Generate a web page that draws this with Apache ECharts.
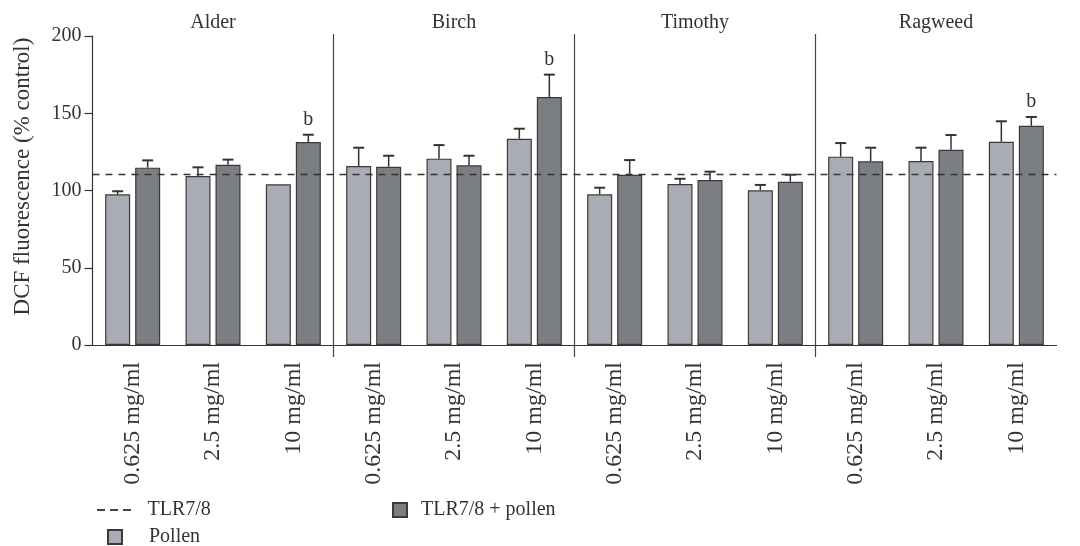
<!DOCTYPE html>
<html>
<head>
<meta charset="utf-8">
<script src="https://cdn.jsdelivr.net/npm/echarts@6/dist/echarts.min.js"></script>
<style>html,body{margin:0;padding:0;background:#fff}#c{width:1080px;height:546px}</style>
</head>
<body>
<div id="c"></div>
<script>
// ---- data ----
const categories = ['0.625 mg/ml','2.5 mg/ml','10 mg/ml','0.625 mg/ml','2.5 mg/ml','10 mg/ml','0.625 mg/ml','2.5 mg/ml','10 mg/ml','0.625 mg/ml','2.5 mg/ml','10 mg/ml'];
const groups = ['Alder','Birch','Timothy','Ragweed'];
const pollenMean = [97.5,109.4,104, 115.9,120.6,133.5, 97.5,104.2,100.1, 121.9,119.1,131.6];
const pollenErrTop = [99.5,115,null, 127.7,129.4,140, 101.8,107.6,103.6, 130.7,127.7,144.8];
const comboMean = [114.8,116.7,131.4, 115.4,116.3,160.5, 110.2,106.8,105.7, 118.9,126.4,141.9];
const comboErrTop = [119.5,120,136.1, 122.5,122.5,175, 119.7,112.2,110.2, 127.7,135.9,147.6];
const comboSig = ['','','b', '','','b', '','','', '','','b'];
const tlrLevel = [110.5];
const yTicks = [0,50,100,150,200];

// ---- style ----
const FONT = 'Liberation Serif';
const BAR_W = 25, BAR_GAP = 5;
const INK = '#333';
const DASH_ICON = 'path://M0,0L8,0L8,2L0,2Z M13,0L21,0L21,2L13,2Z M26,0L34,0L34,2L26,2Z';

function errItem(offset, tops, sig) {
  return function (params, api) {
    const i = api.value(0);
    const top = tops[i];
    if (top == null) return null;
    const base = api.coord([i, api.value(1)]);
    const t = api.coord([i, top]);
    const x = base[0] + offset;
    const children = [
      {type:'line', shape:{x1:x,y1:base[1],x2:x,y2:t[1]}, style:{stroke:INK,lineWidth:1.5}},
      {type:'line', shape:{x1:x-5.5,y1:t[1],x2:x+5.5,y2:t[1]}, style:{stroke:INK,lineWidth:2}}
    ];
    if (sig && sig[i]) {
      children.push({type:'text', x:x, y:t[1]-5, style:{text:sig[i], font:'20px "'+FONT+'"', fill:INK, align:'center', verticalAlign:'bottom'}});
    }
    return {type:'group', children};
  };
}

const legendText = {fontFamily:FONT, fontSize:20, color:INK};
const chart = echarts.init(document.getElementById('c'));
chart.setOption({
  animation:false,
  textStyle:{fontFamily:FONT},
  grid:{left:92.5, right:23.5, top:36, bottom:201},
  legend:[
    {left:92, top:495, itemWidth:35, itemHeight:2, icon:DASH_ICON,
     textStyle:Object.assign({padding:[0,0,0,11]}, legendText), data:['TLR7/8']},
    {left:102, top:522, itemWidth:14, itemHeight:14, icon:'rect',
     textStyle:Object.assign({padding:[0,0,0,22]}, legendText), data:['Pollen']},
    {left:387, top:495, itemWidth:14, itemHeight:14, icon:'rect',
     textStyle:Object.assign({padding:[0,0,0,9]}, legendText), data:['TLR7/8 + pollen']}
  ],
  xAxis:{type:'category', data:categories,
    axisLine:{lineStyle:{color:INK,width:1.2}},
    axisTick:{alignWithLabel:true, length:9, lineStyle:{color:INK,width:1.2}},
    axisLabel:{rotate:90, fontFamily:FONT, fontSize:24, color:INK, margin:17}},
  yAxis:{type:'value', min:0, max:200, interval:50,
    name:'DCF fluorescence (% control)', nameLocation:'middle', nameGap:58,
    nameTextStyle:{fontFamily:FONT,fontSize:23,color:INK,padding:[0,0,0,28]},
    axisLine:{show:true, lineStyle:{color:INK,width:1.2}},
    axisTick:{show:true, length:8, lineStyle:{color:INK,width:1.2}},
    splitLine:{show:false},
    axisLabel:{fontFamily:FONT, fontSize:20, color:INK, margin:11,
      formatter:v=>yTicks.includes(v)?String(v):''}},
  series:[
    {name:'Pollen', type:'bar', data:pollenMean, barWidth:BAR_W, barGap:(BAR_GAP/BAR_W*100)+'%',
     itemStyle:{color:'#a9acb4', borderColor:'#3a3a3a', borderWidth:1.2}, z:2},
    {name:'TLR7/8 + pollen', type:'bar', data:comboMean, barWidth:BAR_W,
     itemStyle:{color:'#7b7e83', borderColor:'#3a3a3a', borderWidth:1.2}, z:2},
    {name:'TLR7/8', type:'line', data:[], symbol:'none', lineStyle:{color:INK,type:[7,6],width:1.4},
     itemStyle:{color:'#444'},
     markLine:{silent:true, symbol:'none', label:{show:false},
       lineStyle:{color:INK,type:[7,6],width:1.4},
       data:[{yAxis:tlrLevel[0]}]}, z:5},
    {type:'custom', data:pollenMean.map((v,i)=>[i,v]), renderItem:errItem(-(BAR_W+BAR_GAP)/2, pollenErrTop, null), z:3, clip:false},
    {type:'custom', data:comboMean.map((v,i)=>[i,v]), renderItem:errItem((BAR_W+BAR_GAP)/2, comboErrTop, comboSig), z:3, clip:false},
    {type:'custom', data:[0,1,2].map(g=>[g]), clip:false, z:4,
     renderItem:function(params, api){
       const g = api.value(0);
       const a = api.coord([3*g+2, 200]);
       const b = api.coord([3*g+3, 0]);
       const x = (a[0]+b[0])/2;
       return {type:'line', shape:{x1:x,y1:a[1]-2,x2:x,y2:b[1]+12}, style:{stroke:'#444',lineWidth:1.2}};
     }},
    {type:'custom', data:groups.map((g,i)=>[i]), clip:false, z:4,
     renderItem:function(params, api){
       const g = api.value(0);
       const p = api.coord([3*g+1, 200]);
       return {type:'text', x:p[0], y:p[1]-13, style:{text:groups[g], font:'20px "'+FONT+'"', fill:INK, align:'center', verticalAlign:'middle'}};
     }}
  ]
});
</script>
</body>
</html>
